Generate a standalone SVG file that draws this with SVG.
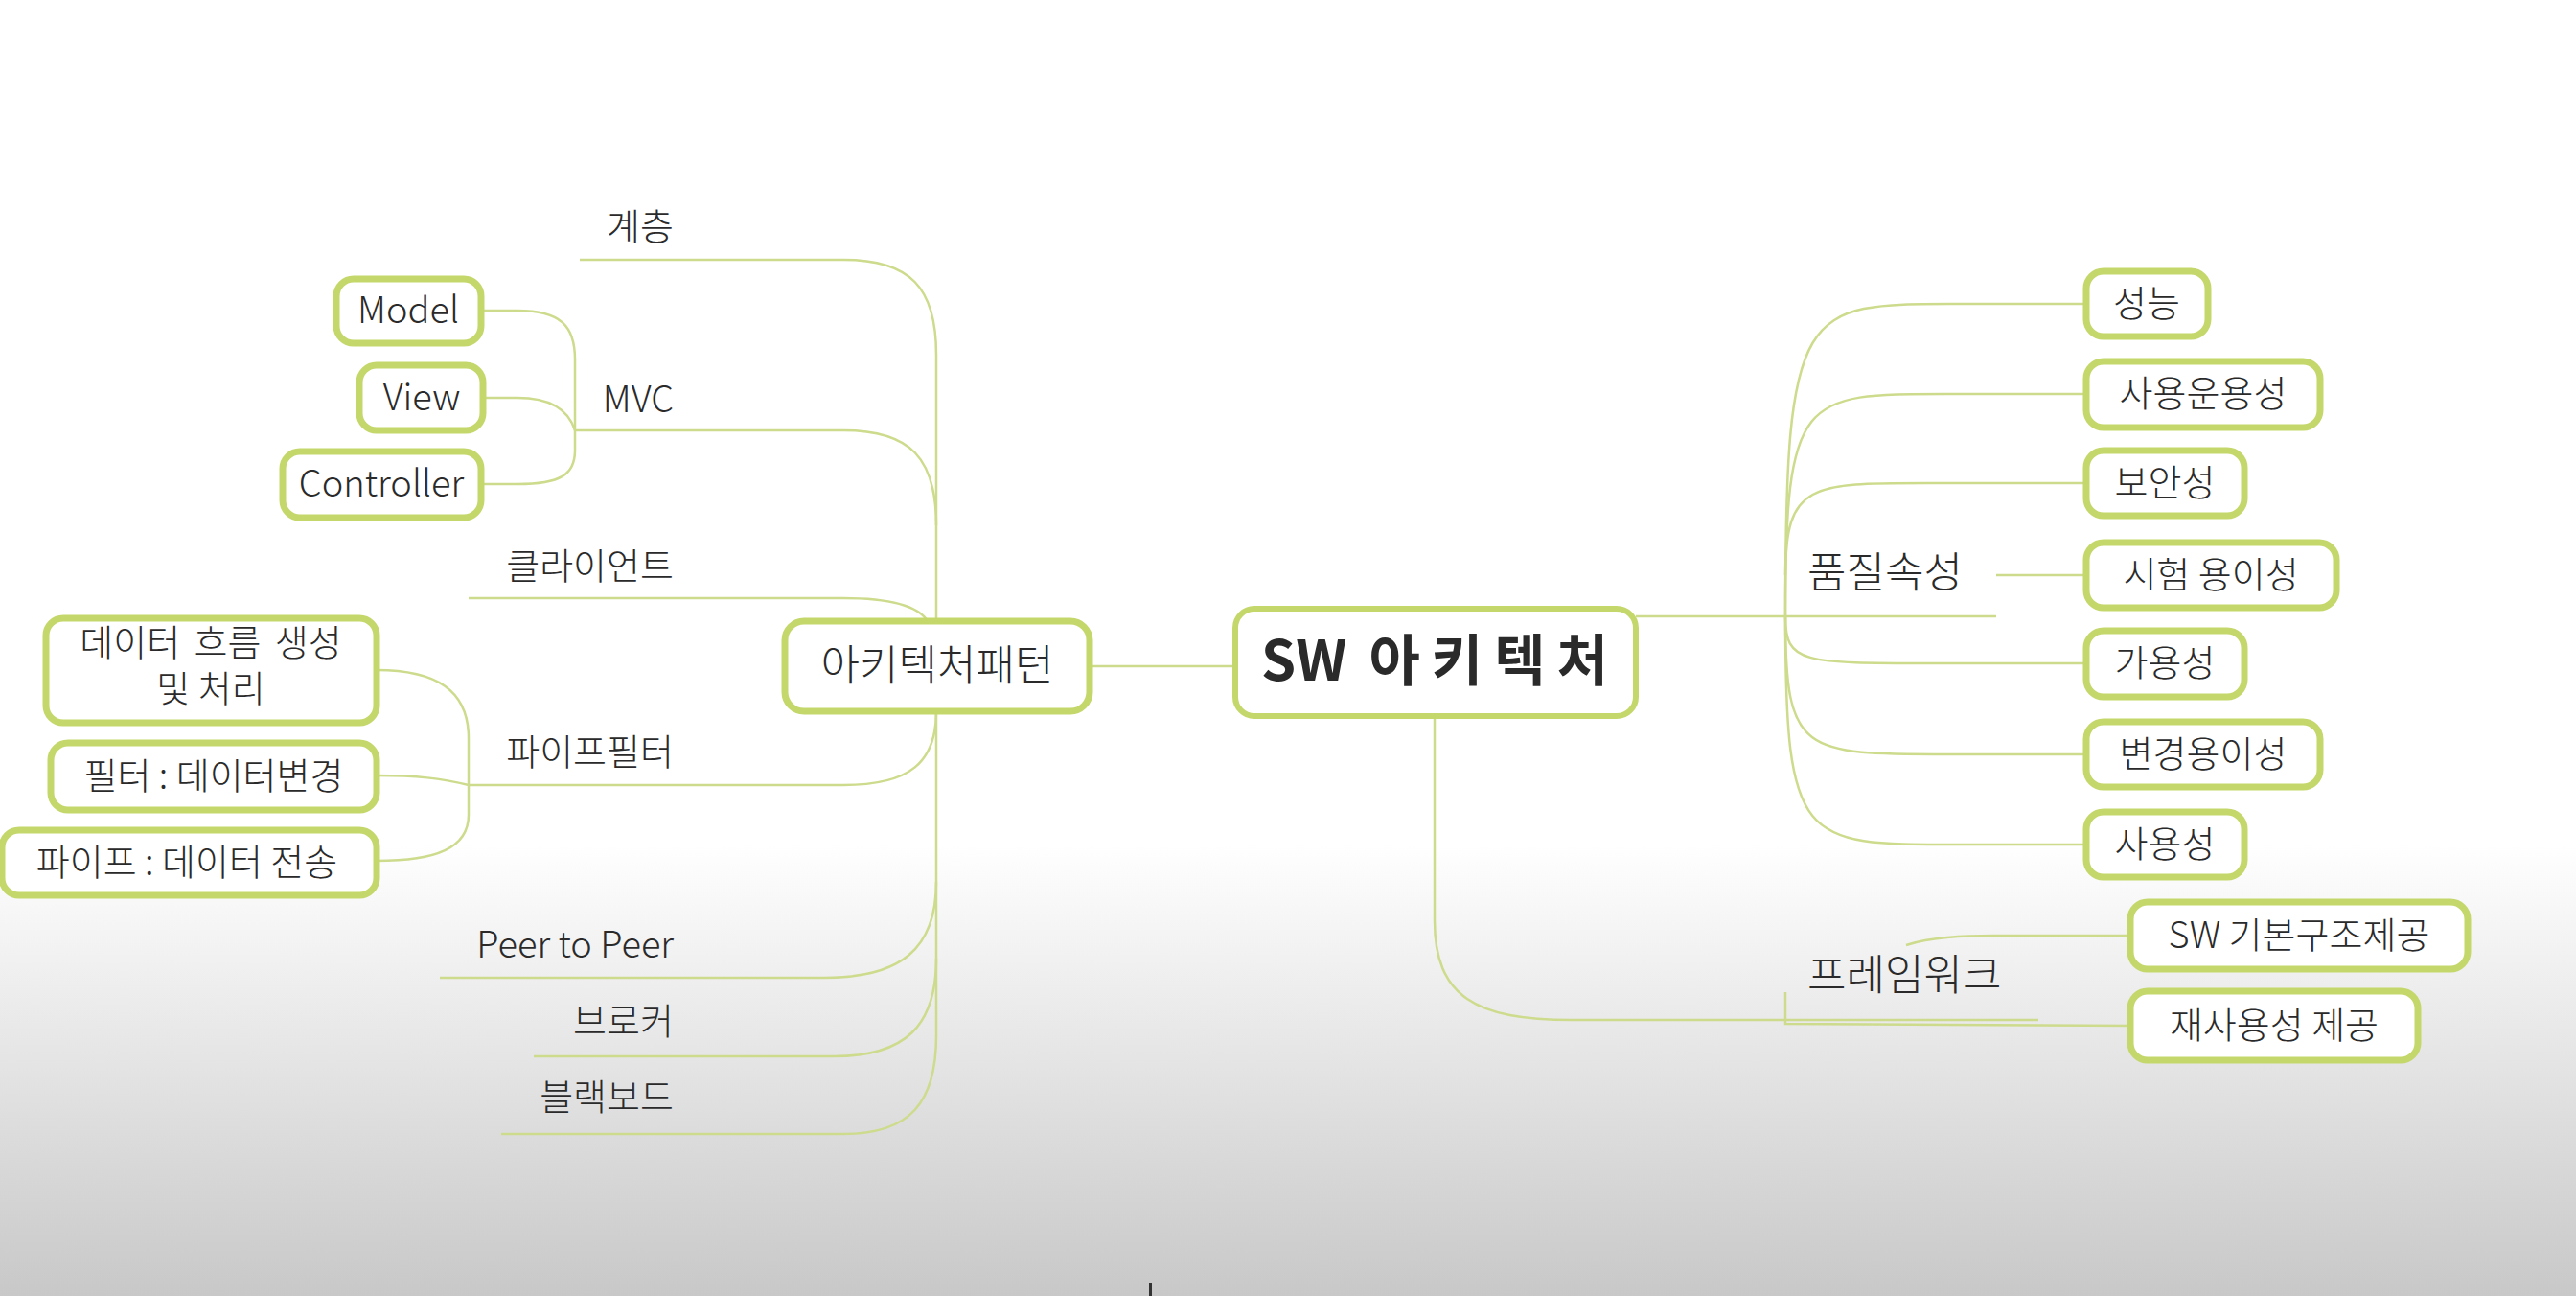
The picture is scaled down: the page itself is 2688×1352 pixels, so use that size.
<svg xmlns="http://www.w3.org/2000/svg" width="2688" height="1352" viewBox="0 0 2688 1352">
<defs>
<linearGradient id="bg" x1="0" y1="880" x2="0" y2="1352" gradientUnits="userSpaceOnUse">
<stop offset="0" stop-color="#ffffff"/>
<stop offset="1" stop-color="#c8c8c8"/>
</linearGradient>
<style>
.box{fill:#ffffff;stroke:#c4d76b;stroke-width:7}
.root{fill:#ffffff;stroke:#c4d76b;stroke-width:6}
.conn{fill:none;stroke:#cddb8c;stroke-width:2.5}
text{font-family:"Noto Sans CJK KR","Noto Sans",sans-serif;fill:#2a2a2a;font-weight:300}
.t38{font-size:38px}
.t44{font-size:44px}
.mid{text-anchor:middle}
.end{text-anchor:end}
</style>
</defs>
<rect x="0" y="0" width="2688" height="1352" fill="url(#bg)"/>

<g id="connectors">
<path class="conn" d="M1137,695 L1289,695"/>
<path class="conn" d="M605,271 L880,271 C950,271 977,300 977,370 L977,648"/>
<path class="conn" d="M600,449 L880,449 C950,449 977,478 977,548"/>
<path class="conn" d="M489,624 L880,624 C930,624 958,632 968,648"/>
<path class="conn" d="M489,819 L880,819 C950,819 977,795 977,742"/>
<path class="conn" d="M459,1020 L860,1020 C940,1020 977,990 977,920"/>
<path class="conn" d="M557,1102 L870,1102 C945,1102 977,1070 977,1000"/>
<path class="conn" d="M523,1183 L880,1183 C950,1183 977,1150 977,1080 L977,742"/>
<path class="conn" d="M502,324 L540,324 C585,324 600,340 600,375 L600,470 C600,495 585,505 540,505 L502,505"/>
<path class="conn" d="M504,415 L540,415 C578,415 594,430 600,449"/>
<path class="conn" d="M393,699 C455,699 489,720 489,770 L489,850 C489,885 455,898 393,898"/>
<path class="conn" d="M393,809 C435,809 460,812 489,819"/>
<path class="conn" d="M1707,643 L2083,643"/>
<path class="conn" d="M2083,600 L2177,600"/>
<path class="conn" d="M1863,643 C1863,317 1880,317 2040,317 L2177,317"/>
<path class="conn" d="M1863,643 C1863,411 1880,411 2030,411 L2177,411"/>
<path class="conn" d="M1863,600 C1863,504 1890,504 2010,504 L2177,504"/>
<path class="conn" d="M1863,643 C1863,692 1880,692 2020,692 L2177,692"/>
<path class="conn" d="M1863,643 C1863,787 1880,787 2035,787 L2177,787"/>
<path class="conn" d="M1863,643 C1863,881 1880,881 2040,881 L2177,881"/>
<path class="conn" d="M1497,747 L1497,960 C1497,1040 1540,1064 1640,1064 L2127,1064"/>
<path class="conn" d="M1863,1035 L1863,1068 L2223,1070"/>
<path class="conn" d="M1989,986 C2010,979 2040,976 2080,976 L2223,976"/>
</g>

<g id="root">
<rect class="root" x="1289" y="635" width="418" height="112" rx="20"/>
<text x="1316" y="710" style="font-size:58px;font-weight:700">SW <tspan dx="10" style="letter-spacing:12px">아키텍처</tspan></text>
</g>

<g id="pattern">
<rect class="box" x="819" y="648" width="318" height="94" rx="20"/>
<text class="t44 mid" x="978" y="710">아키텍처패턴</text>
</g>

<g id="layer"><text class="t38 end" x="703" y="250">계층</text></g>
<g id="mvc"><text class="t38 end" x="703" y="430">MVC</text></g>
<g id="model">
<rect class="box" x="351" y="291" width="151" height="67" rx="18"/>
<text class="t38 mid" x="426" y="337">Model</text>
</g>
<g id="view">
<rect class="box" x="375" y="381" width="129" height="68" rx="18"/>
<text class="t38 mid" x="440" y="428">View</text>
</g>
<g id="controller">
<rect class="box" x="295" y="471" width="207" height="69" rx="18"/>
<text class="t38 mid" x="398" y="518">Controller</text>
</g>
<g id="client"><text class="t38 end" x="703" y="604">클라이언트</text></g>
<g id="pipefilter"><text class="t38 end" x="703" y="798">파이프필터</text></g>
<g id="dataflow">
<rect class="box" x="48" y="645" width="345" height="109" rx="18"/>
<text class="t38 mid" x="220" y="684"><tspan x="220" style="word-spacing:6px">데이터 흐름 생성</tspan><tspan x="220" dy="48">및 처리</tspan></text>
</g>
<g id="filter">
<rect class="box" x="53" y="775" width="340" height="70" rx="18"/>
<text class="t38 mid" x="223" y="823">필터 : 데이터변경</text>
</g>
<g id="pipe">
<rect class="box" x="2" y="866" width="391" height="68" rx="18"/>
<text class="t38 mid" x="195" y="913">파이프 : 데이터 전송</text>
</g>
<g id="p2p"><text class="t38 end" x="703" y="999">Peer to Peer</text></g>
<g id="broker"><text class="t38 end" x="703" y="1079">브로커</text></g>
<g id="blackboard"><text class="t38 end" x="703" y="1158">블랙보드</text></g>

<g id="quality"><text class="t44" x="1886" y="613">품질속성</text></g>
<g id="perf">
<rect class="box" x="2177" y="283" width="127" height="68" rx="18"/>
<text class="t38 mid" x="2240" y="330">성능</text>
</g>
<g id="operability">
<rect class="box" x="2177" y="377" width="244" height="69" rx="18"/>
<text class="t38 mid" x="2299" y="424">사용운용성</text>
</g>
<g id="security">
<rect class="box" x="2177" y="470" width="165" height="68" rx="18"/>
<text class="t38 mid" x="2259" y="517">보안성</text>
</g>
<g id="testability">
<rect class="box" x="2177" y="566" width="261" height="68" rx="18"/>
<text class="t38 mid" x="2307" y="613">시험 용이성</text>
</g>
<g id="availability">
<rect class="box" x="2177" y="658" width="165" height="69" rx="18"/>
<text class="t38 mid" x="2259" y="705">가용성</text>
</g>
<g id="modifiability">
<rect class="box" x="2177" y="753" width="244" height="68" rx="18"/>
<text class="t38 mid" x="2299" y="800">변경용이성</text>
</g>
<g id="usability">
<rect class="box" x="2177" y="847" width="165" height="68" rx="18"/>
<text class="t38 mid" x="2259" y="894">사용성</text>
</g>
<g id="framework"><text class="t44" x="1886" y="1033">프레임워크</text></g>
<g id="basic">
<rect class="box" x="2223" y="941" width="352" height="70" rx="18"/>
<text class="t38 mid" x="2399" y="989">SW 기본구조제공</text>
</g>
<g id="reuse">
<rect class="box" x="2223" y="1034" width="300" height="72" rx="18"/>
<text class="t38 mid" x="2373" y="1083">재사용성 제공</text>
</g>

<rect x="1199" y="1338" width="3" height="14" fill="#333333"/>
</svg>
